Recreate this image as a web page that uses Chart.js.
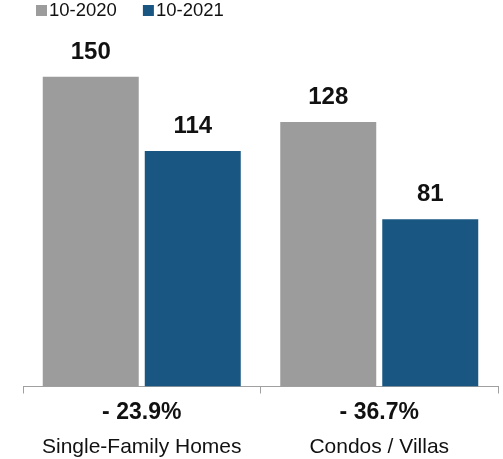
<!DOCTYPE html>
<html>
<head>
<meta charset="utf-8">
<script src="https://cdn.jsdelivr.net/npm/chart.js@4/dist/chart.umd.min.js"></script>
<style>
  html, body { margin: 0; padding: 0; background: #fff; }
  #wrap { width: 503px; height: 459px; }
</style>
</head>
<body>
<div id="wrap"><canvas id="chart" width="503" height="459"></canvas></div>
<script>
var categories = ['Single-Family Homes', 'Condos / Villas'];
var seriesNames = ['10-2020', '10-2021'];
var values2020 = [150, 128];
var values2021 = [114, 81];
var changeLabels = ['- 23.9%', '- 36.7%'];
var seriesColors = ['#9c9c9c', '#195782'];

var FONT = '"Liberation Sans", Arial, Helvetica, sans-serif';

// legend: small squares with the series names, drawn across the top
var legendPlugin = {
  id: 'topLegend',
  afterDraw: function(chart) {
    var ctx = chart.ctx;
    ctx.save();
    ctx.font = '18.5px ' + FONT;
    ctx.textBaseline = 'middle';
    ctx.textAlign = 'left';
    var x = 36;
    chart.data.datasets.forEach(function(ds) {
      ctx.fillStyle = ds.backgroundColor;
      ctx.fillRect(x, 5, 11, 11);
      ctx.fillStyle = '#111';
      ctx.fillText(ds.label, x + 13, 11);
      x += 13 + ctx.measureText(ds.label).width + 26;
    });
    ctx.restore();
  }
};

// numbers over each bar, then percent change and category name under each group
var labelPlugin = {
  id: 'barLabels',
  afterDatasetsDraw: function(chart) {
    var ctx = chart.ctx;
    ctx.save();
    ctx.fillStyle = '#111';
    ctx.textAlign = 'center';
    ctx.textBaseline = 'alphabetic';
    ctx.font = 'bold 24px ' + FONT;
    chart.data.datasets.forEach(function(ds, i) {
      chart.getDatasetMeta(i).data.forEach(function(bar, j) {
        ctx.fillText(ds.data[j], bar.x, bar.y - 18);
      });
    });
    var xScale = chart.scales.x;
    chart.data.labels.forEach(function(name, j) {
      var cx = xScale.getPixelForValue(j);
      ctx.font = 'bold 23px ' + FONT;
      ctx.fillText(changeLabels[j], cx, xScale.top + 32.5);
      ctx.font = '21px ' + FONT;
      ctx.fillText(name, cx, xScale.top + 66.5);
    });
    ctx.restore();
  }
};

new Chart(document.getElementById('chart'), {
  type: 'bar',
  data: {
    labels: categories,
    datasets: [
      { label: seriesNames[0], data: values2020, backgroundColor: seriesColors[0] },
      { label: seriesNames[1], data: values2021, backgroundColor: seriesColors[1] }
    ]
  },
  options: {
    responsive: false,
    animation: false,
    devicePixelRatio: 1,
    categoryPercentage: 0.859,
    barPercentage: 0.941,
    layout: { padding: { top: 25, left: 23, right: 5, bottom: 65.5 } },
    plugins: {
      legend: { display: false },
      tooltip: { enabled: false }
    },
    scales: {
      x: {
        grid: { drawOnChartArea: false, tickLength: 7, color: '#a0a0a0', offset: true },
        border: { color: '#a0a0a0', width: 1 },
        ticks: { display: false }
      },
      y: {
        display: false,
        beginAtZero: true,
        min: 0,
        max: 175
      }
    }
  },
  plugins: [legendPlugin, labelPlugin]
});
</script>
</body>
</html>
